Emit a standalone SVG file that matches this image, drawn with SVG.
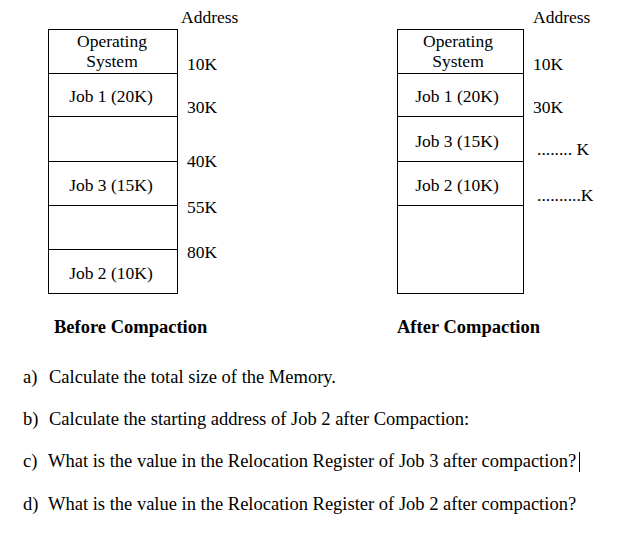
<svg xmlns="http://www.w3.org/2000/svg" width="627" height="542" viewBox="0 0 627 542">
<style>
text{font-family:"Liberation Serif","Times New Roman",serif;fill:#000}
.d{font-size:17.5px}
.c{text-anchor:middle}
.t{font-size:18.5px;font-weight:bold}
.q{font-size:18.5px}
.cell{fill:#fff;stroke:#000;stroke-width:1}
</style>
<rect width="627" height="542" fill="#fff"/>
<g id="before">
  <g id="b-os"><rect class="cell" x="48.5" y="29.5" width="129" height="44"/><text class="d c" x="112" y="47">Operating</text><text class="d c" x="112" y="67">System</text></g>
  <g id="b-job1"><rect class="cell" x="48.5" y="73.5" width="129" height="43"/><text class="d c" x="111" y="102">Job 1 (20K)</text></g>
  <g id="b-hole1"><rect class="cell" x="48.5" y="116.5" width="129" height="45"/></g>
  <g id="b-job3"><rect class="cell" x="48.5" y="161.5" width="129" height="44"/><text class="d c" x="111" y="191">Job 3 (15K)</text></g>
  <g id="b-hole2"><rect class="cell" x="48.5" y="205.5" width="129" height="44"/></g>
  <g id="b-job2"><rect class="cell" x="48.5" y="249.5" width="129" height="44"/><text class="d c" x="111" y="279">Job 2 (10K)</text></g>
  <g id="b-addr">
    <text class="d" x="181" y="23">Address</text>
    <text class="d" x="187" y="70">10K</text>
    <text class="d" x="187" y="113">30K</text>
    <text class="d" x="187" y="167">40K</text>
    <text class="d" x="187" y="213">55K</text>
    <text class="d" x="187" y="258">80K</text>
  </g>
  <text class="t" x="54" y="333">Before Compaction</text>
</g>
<g id="after">
  <g id="a-os"><rect class="cell" x="397.5" y="29.5" width="126" height="44"/><text class="d c" x="458" y="47">Operating</text><text class="d c" x="458" y="67">System</text></g>
  <g id="a-job1"><rect class="cell" x="397.5" y="73.5" width="126" height="43"/><text class="d c" x="457" y="102">Job 1 (20K)</text></g>
  <g id="a-job3"><rect class="cell" x="397.5" y="116.5" width="126" height="45"/><text class="d c" x="457" y="147">Job 3 (15K)</text></g>
  <g id="a-job2"><rect class="cell" x="397.5" y="161.5" width="126" height="44"/><text class="d c" x="457" y="191">Job 2 (10K)</text></g>
  <g id="a-free"><rect class="cell" x="397.5" y="205.5" width="126" height="88"/></g>
  <g id="a-addr">
    <text class="d" x="533" y="23">Address</text>
    <text class="d" x="533" y="70">10K</text>
    <text class="d" x="533" y="113">30K</text>
    <text class="d" x="537" y="155">........ K</text>
    <text class="d" x="537" y="201">..........K</text>
  </g>
  <text class="t" x="397" y="333">After Compaction</text>
</g>
<g id="questions">
  <text class="q" x="23" y="383">a)</text><text class="q" x="49" y="383">Calculate the total size of the Memory.</text>
  <text class="q" x="23" y="425">b)</text><text class="q" x="49" y="425">Calculate the starting address of Job 2 after Compaction:</text>
  <text class="q" x="23" y="467">c)</text><text class="q" x="48" y="467">What is the value in the Relocation Register of Job 3 after compaction?</text>
  <line x1="579.5" y1="452" x2="579.5" y2="472" stroke="#000" stroke-width="1"/>
  <text class="q" x="23" y="510">d)</text><text class="q" x="48" y="510">What is the value in the Relocation Register of Job 2 after compaction?</text>
</g>
</svg>
